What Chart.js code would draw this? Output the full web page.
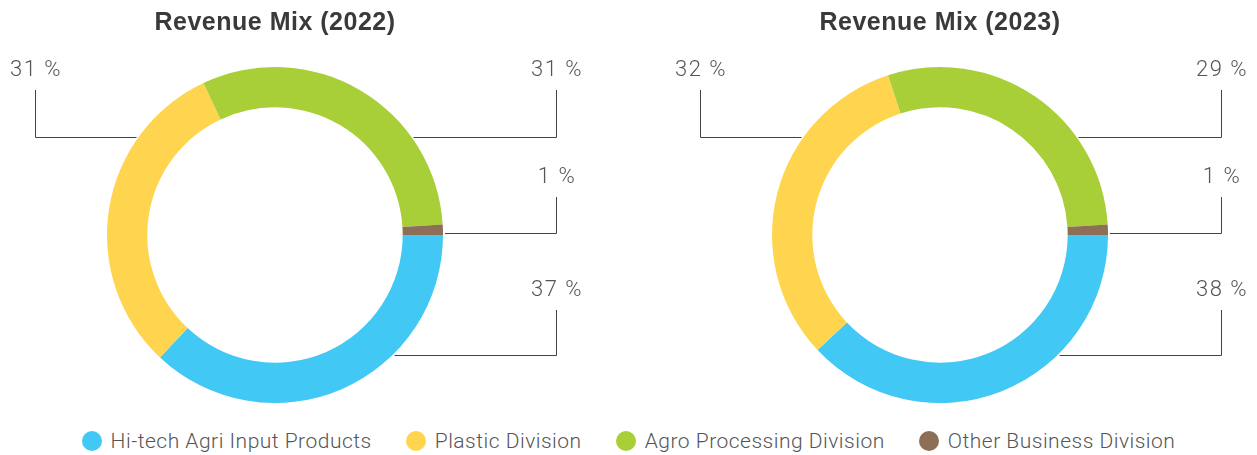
<!DOCTYPE html>
<html>
<head>
<meta charset="utf-8">
<script src="https://cdn.jsdelivr.net/npm/chart.js@4"></script>
<style>
  html, body { margin: 0; padding: 0; background: #fff; }
  body { width: 1257px; height: 455px; position: relative; overflow: hidden; font-family: Roboto, "Liberation Sans", sans-serif; }
  .box { position: absolute; top: 0; height: 415px; }
  #left { left: 0; width: 628px; }
  #right { left: 628px; width: 629px; }
  #legend { position: absolute; left: 0; top: 429px; width: 1257px; display: flex; justify-content: center; align-items: center; gap: 34px; }
  .item { display: flex; align-items: center; font-size: 21px; font-weight: 300; letter-spacing: 0.5px; color: #555; }
  .dot { width: 20px; height: 20px; border-radius: 50%; margin-right: 9px; }
</style>
</head>
<body>
<div class="box" id="left"><canvas id="mix2022"></canvas></div>
<div class="box" id="right"><canvas id="mix2023"></canvas></div>
<div id="legend"></div>
<script>
const divisions = ["Hi-tech Agri Input Products", "Plastic Division", "Agro Processing Division", "Other Business Division"];
const share2022 = [37, 31, 31, 1];
const share2023 = [38, 32, 29, 1];
const colors = ["#42c8f4", "#ffd54f", "#a8ce38", "#8d6e56"];

// where each slice's callout sits: column (left/right of the ring), text row, elbow row
const callouts = [
  { side: "right", textY: 290, lineY: 355 },
  { side: "left", textY: 70, lineY: 137 },
  { side: "right", textY: 70, lineY: 137 },
  { side: "right", textY: 177, lineY: 233 },
];

const calloutPlugin = {
  id: "callouts",
  beforeDraw(chart) {
    // a little tracking for the bold title
    chart.ctx.letterSpacing = "0.5px";
  },
  afterDatasetsDraw(chart) {
    const ctx = chart.ctx;
    const meta = chart.getDatasetMeta(0);
    const values = chart.data.datasets[0].data;
    const total = values.reduce((a, b) => a + b, 0);
    ctx.save();
    meta.data.forEach((arc, i) => {
      const c = callouts[i];
      const { x: cx, y: cy, outerRadius: r } = arc.getProps(["x", "y", "outerRadius"], true);
      const colX = c.side === "left" ? cx - 240 : cx + 281;
      const dy = c.lineY - cy;
      const edge = Math.sqrt(Math.max(r * r - dy * dy, 0)) + 2;
      const endX = c.side === "left" ? cx - edge : cx + edge;
      ctx.strokeStyle = "#444";
      ctx.lineWidth = 1;
      ctx.beginPath();
      ctx.moveTo(colX + 0.5, c.textY + 20);
      ctx.lineTo(colX + 0.5, c.lineY + 0.5);
      ctx.lineTo(endX, c.lineY + 0.5);
      ctx.stroke();
      ctx.fillStyle = "#555";
      ctx.font = "300 22px Roboto, 'Liberation Sans', sans-serif";
      ctx.letterSpacing = "1.5px";
      ctx.textAlign = "center";
      ctx.textBaseline = "middle";
      ctx.fillText(Math.round(values[i] / total * 100) + " %", colX + 1, c.textY);
    });
    ctx.restore();
  },
  afterDraw(chart) {
    chart.ctx.letterSpacing = "0px";
  }
};

function makeChart(id, year, values, padding) {
  return new Chart(document.getElementById(id), {
    type: "doughnut",
    data: {
      labels: divisions,
      datasets: [{
        data: values,
        backgroundColor: colors,
        borderWidth: 0,
      }],
    },
    options: {
      responsive: true,
      maintainAspectRatio: false,
      animation: false,
      rotation: 90,
      cutout: "76%",
      layout: { padding: padding },
      plugins: {
        legend: { display: false },
        tooltip: { enabled: false },
        title: {
          display: true,
          text: "Revenue Mix (" + year + ")",
          color: "#3a3a3a",
          font: { family: "'Liberation Sans', Arial, sans-serif", size: 25, weight: "bold" },
          padding: { top: 8, bottom: 29 },
        },
      },
    },
    plugins: [calloutPlugin],
  });
}

makeChart("mix2022", "2022", share2022, { left: 0, right: 78, top: 0, bottom: 12 });
makeChart("mix2023", "2023", share2023, { left: 37, right: 42, top: 0, bottom: 12 });

const legend = document.getElementById("legend");
divisions.forEach((name, i) => {
  const item = document.createElement("div");
  item.className = "item";
  item.innerHTML = '<span class="dot" style="background:' + colors[i] + '"></span>' + name;
  legend.appendChild(item);
});
</script>
</body>
</html>
